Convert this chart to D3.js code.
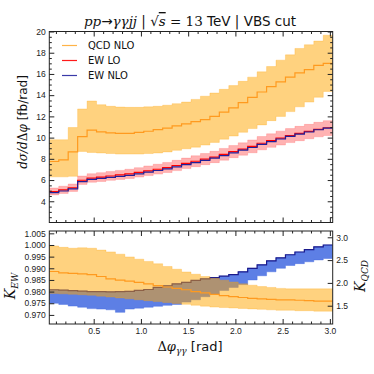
<!DOCTYPE html>
<html>
<head>
<meta charset="utf-8">
<script src="https://cdn.jsdelivr.net/npm/d3@7"></script>
<style>
body { margin: 0; background: #fff; }
svg { display: block; font-family: "DejaVu Sans", sans-serif; }
.tick text { fill: #222; font-size: 8.5px; }
.tick line { stroke: #222; }
.math { font-family: "DejaVu Serif", serif; font-style: italic; }
</style>
</head>
<body>
<svg id="chart" width="374" height="374"></svg>
<script>
// bin edges of delta phi (rad), 30 bins
const binEdges = [0.03, 0.13, 0.23, 0.33, 0.43, 0.53, 0.63, 0.73, 0.83, 0.93,
    1.03, 1.13, 1.23, 1.33, 1.43, 1.53, 1.63, 1.73, 1.83, 1.93,
    2.03, 2.13, 2.23, 2.33, 2.43, 2.53, 2.63, 2.73, 2.83, 2.93, 3.03];

// top panel, fb/rad
const qcdNlo = [7.75, 7.9, 8.65, 10.1, 10.7, 10.55, 10.45, 10.4, 10.4, 10.5,
    10.6, 10.75, 10.9, 11.1, 11.3, 11.5, 11.7, 12.0, 12.4, 12.8,
    13.3, 13.8, 14.3, 14.8, 15.25, 15.7, 16.1, 16.4, 16.8, 17.0];
const qcdUp = [9.8, 9.8, 10.95, 12.7, 13.45, 13.1, 12.95, 12.88, 12.85, 12.85,
    12.9, 12.95, 13.05, 13.2, 13.35, 13.6, 13.9, 14.2, 14.55, 14.9,
    15.3, 15.7, 16.2, 16.7, 17.3, 17.8, 18.4, 18.75, 19.1, 19.65];
const qcdDown = [6.3, 6.3, 6.35, 8.7, 8.6, 8.55, 8.5, 8.45, 8.45, 8.45,
    8.5, 8.55, 8.65, 8.8, 8.95, 9.1, 9.3, 9.55, 9.85, 10.15,
    10.5, 10.85, 11.2, 11.6, 12.0, 12.45, 12.9, 13.35, 13.8, 14.35];
const ewLo = [4.92, 5.07, 5.27, 5.98, 6.19, 6.28, 6.38, 6.48, 6.58, 6.72,
    6.87, 7.02, 7.18, 7.37, 7.57, 7.77, 7.97, 8.17, 8.42, 8.67,
    8.92, 9.17, 9.47, 9.71, 9.95, 10.19, 10.39, 10.58, 10.77, 10.93];
const ewLoUp = [5.25, 5.42, 5.63, 6.38, 6.6, 6.7, 6.8, 6.91, 7.02, 7.17,
    7.33, 7.49, 7.66, 7.86, 8.07, 8.29, 8.5, 8.71, 8.98, 9.25,
    9.51, 9.78, 10.1, 10.36, 10.61, 10.85, 11.06, 11.25, 11.44, 11.6];
const ewLoDown = [4.6, 4.74, 4.93, 5.59, 5.79, 5.87, 5.97, 6.06, 6.15, 6.28,
    6.42, 6.56, 6.71, 6.89, 7.08, 7.26, 7.45, 7.64, 7.87, 8.11,
    8.34, 8.57, 8.85, 9.08, 9.3, 9.53, 9.71, 9.89, 10.07, 10.2];
const ewNlo = [4.82, 4.97, 5.17, 5.86, 6.06, 6.15, 6.25, 6.35, 6.45, 6.59,
    6.74, 6.9, 7.05, 7.25, 7.45, 7.65, 7.85, 8.06, 8.31, 8.56,
    8.82, 9.07, 9.37, 9.62, 9.87, 10.12, 10.33, 10.53, 10.74, 10.9];

// bottom panel, K factors
const kEwUp = [0.9808, 0.9806, 0.9804, 0.9802, 0.98, 0.98, 0.9799, 0.98, 0.9801, 0.9805,
    0.9809, 0.9818, 0.9825, 0.9833, 0.984, 0.9848, 0.9855, 0.986, 0.9866, 0.9873,
    0.9885, 0.99, 0.9915, 0.9932, 0.9945, 0.9958, 0.997, 0.998, 0.9992, 1.0];
const kEwDown = [0.975, 0.9745, 0.9738, 0.9733, 0.9727, 0.9725, 0.9722, 0.9711, 0.9725, 0.9729,
    0.9733, 0.9737, 0.9741, 0.9745, 0.9755, 0.9765, 0.9778, 0.979, 0.9805, 0.9818,
    0.983, 0.985, 0.9868, 0.9885, 0.99, 0.9912, 0.992, 0.9928, 0.9936, 0.9942];
const kQcd = [2.25, 2.22, 2.21, 2.2, 2.18, 2.14, 2.09, 2.06, 2.04, 2.01,
    1.98, 1.94, 1.91, 1.88, 1.85, 1.81, 1.78, 1.75, 1.72, 1.7,
    1.68, 1.66, 1.65, 1.64, 1.63, 1.63, 1.62, 1.61, 1.6, 1.6];
const kQcdUp = [2.81, 2.78, 2.76, 2.77, 2.76, 2.72, 2.68, 2.63, 2.57, 2.52,
    2.47, 2.42, 2.36, 2.3, 2.24, 2.19, 2.14, 2.1, 2.06, 2.02,
    1.98, 1.95, 1.92, 1.9, 1.88, 1.87, 1.87, 1.87, 1.87, 1.87];
const kQcdDown = [1.77, 1.76, 1.75, 1.74, 1.73, 1.71, 1.69, 1.67, 1.65, 1.63,
    1.61, 1.59, 1.57, 1.55, 1.53, 1.51, 1.49, 1.47, 1.46, 1.45,
    1.44, 1.43, 1.42, 1.41, 1.4, 1.4, 1.39, 1.39, 1.38, 1.38];

const xTicks = [0.5, 1.0, 1.5, 2.0, 2.5, 3.0];
const yTicksTop = [4, 6, 8, 10, 12, 14, 16, 18, 20];
const yTicksEw = [0.970, 0.975, 0.980, 0.985, 0.990, 0.995, 1.000, 1.005];
const yTicksQcd = [1.5, 2.0, 2.5, 3.0];
const legendItems = [
    {label: "QCD NLO", color: "#ffb347"},
    {label: "EW LO", color: "#ff1a1a"},
    {label: "EW NLO", color: "#3a3aa8"}
];

const svg = d3.select("#chart");
const left = 49.3, right = 332.7;
const top1 = 31.5, bot1 = 222.5, top2 = 231, bot2 = 324;

const x = d3.scaleLinear().domain([0.03, 3.03]).range([left, right]);
const yTop = d3.scaleLinear().domain([2, 20]).range([bot1, top1]);
const yEw = d3.scaleLinear().domain([0.9661, 1.006]).range([bot2, top2]);
const yQcd = d3.scaleLinear().domain([1.099, 3.138]).range([bot2, top2]);

// turn per-bin values into step points (last edge repeats last value)
function steps(vals) {
    const pts = vals.map((v, i) => ({x: binEdges[i], v: v}));
    pts.push({x: binEdges[vals.length], v: vals[vals.length - 1]});
    return pts;
}
function bandPts(lo, hi) {
    const pts = lo.map((v, i) => ({x: binEdges[i], lo: v, hi: hi[i]}));
    pts.push({x: binEdges[lo.length], lo: lo[lo.length - 1], hi: hi[hi.length - 1]});
    return pts;
}

function drawBand(g, y, lo, hi, color, opacity) {
    const area = d3.area().curve(d3.curveStepAfter)
        .x(d => x(d.x)).y0(d => y(d.lo)).y1(d => y(d.hi));
    g.append("path").datum(bandPts(lo, hi))
        .attr("d", area)
        .attr("fill", color).attr("fill-opacity", opacity)
        .attr("stroke", color).attr("stroke-opacity", opacity * 0.5)
        .attr("stroke-width", 1);
}
function drawStep(g, y, vals, color, w) {
    const line = d3.line().curve(d3.curveStepAfter).x(d => x(d.x)).y(d => y(d.v));
    g.append("path").datum(steps(vals))
        .attr("d", line).attr("fill", "none")
        .attr("stroke", color).attr("stroke-width", w);
}

svg.append("clipPath").attr("id", "c1").append("rect")
    .attr("x", left).attr("y", top1).attr("width", right - left).attr("height", bot1 - top1);
svg.append("clipPath").attr("id", "c2").append("rect")
    .attr("x", left).attr("y", top2).attr("width", right - left).attr("height", bot2 - top2);

// ---- top panel
const p1 = svg.append("g").attr("clip-path", "url(#c1)");
drawBand(p1, yTop, qcdDown, qcdUp, "#ffa500", 0.5);
drawStep(p1, yTop, qcdNlo, "#ff9a1f", 1.2);
drawBand(p1, yTop, ewLoDown, ewLoUp, "#ff0000", 0.3);
drawStep(p1, yTop, ewLo, "#ff0000", 1.2);
drawStep(p1, yTop, ewNlo, "#20209a", 1.2);

// ---- bottom panel
const p2 = svg.append("g").attr("clip-path", "url(#c2)");
drawBand(p2, yEw, kEwDown, kEwUp, "#4169e1", 0.85);
drawStep(p2, yEw, kEwUp, "#1a1a8c", 1.2);
drawBand(p2, yQcd, kQcdDown, kQcdUp, "#ffa500", 0.5);
drawStep(p2, yQcd, kQcd, "#ff9a1f", 1.2);

// ---- axes (ticks inside, on all sides)
function ticks(axis, transform, values, size, fmt) {
    const g = svg.append("g").attr("transform", transform)
        .call(axis.tickValues(values).tickSizeInner(-size).tickSizeOuter(0)
            .tickPadding(3.5).tickFormat(fmt || ""));
    g.select(".domain").remove();
    return g;
}
const minorX = d3.range(0.1, 3.05, 0.1).filter(v => Math.abs(v * 2 - Math.round(v * 2)) > 0.01);
const minorTop = d3.range(2.5, 20, 0.5).filter(v => v % 2 !== 0);

// top panel
ticks(d3.axisBottom(x), `translate(0,${bot1})`, xTicks, 5);
ticks(d3.axisBottom(x), `translate(0,${bot1})`, minorX, 2.5);
ticks(d3.axisTop(x), `translate(0,${top1})`, xTicks, 5);
ticks(d3.axisTop(x), `translate(0,${top1})`, minorX, 2.5);
ticks(d3.axisLeft(yTop), `translate(${left},0)`, yTicksTop, 5, d3.format("d"));
ticks(d3.axisLeft(yTop), `translate(${left},0)`, minorTop, 2.5);
ticks(d3.axisRight(yTop), `translate(${right},0)`, yTicksTop, 5);
ticks(d3.axisRight(yTop), `translate(${right},0)`, minorTop, 2.5);

// bottom panel
ticks(d3.axisBottom(x), `translate(0,${bot2})`, xTicks, 5, d3.format(".1f"));
ticks(d3.axisBottom(x), `translate(0,${bot2})`, minorX, 2.5);
ticks(d3.axisTop(x), `translate(0,${top2})`, xTicks, 5);
ticks(d3.axisTop(x), `translate(0,${top2})`, minorX, 2.5);
ticks(d3.axisLeft(yEw), `translate(${left},0)`, yTicksEw, 5, d3.format(".3f"));
ticks(d3.axisRight(yQcd), `translate(${right},0)`, yTicksQcd, 5, d3.format(".1f"));

// frames
[[top1, bot1], [top2, bot2]].forEach(([t, b]) => {
    svg.append("rect").attr("x", left).attr("y", t)
        .attr("width", right - left).attr("height", b - t)
        .attr("fill", "none").attr("stroke", "#222").attr("stroke-width", 1);
});

// legend
const leg = svg.append("g");
legendItems.forEach((d, i) => {
    const ly = 45.5 + i * 15;
    leg.append("line").attr("x1", 62).attr("x2", 77).attr("y1", ly).attr("y2", ly)
        .attr("stroke", d.color).attr("stroke-width", 1.2);
    leg.append("text").attr("x", 88).attr("y", ly).attr("dy", "0.35em")
        .attr("font-size", 10).attr("fill", "#111").text(d.label);
});

// title
const title = svg.append("text").attr("x", 190).attr("y", 26)
    .attr("text-anchor", "middle").attr("font-size", 13.5).attr("fill", "#111");
title.append("tspan").attr("class", "math").text("pp");
title.append("tspan").text("→");
title.append("tspan").attr("class", "math").text("γγjj");
title.append("tspan").text(" | √");
title.append("tspan").attr("class", "math").attr("text-decoration", "overline").text("s");
title.append("tspan").attr("font-family", "DejaVu Serif").text(" = 13");
title.append("tspan").text(" TeV | VBS cut");

// y label top
const yl = svg.append("text").attr("transform", "translate(27,122) rotate(-90)")
    .attr("text-anchor", "middle").attr("font-size", 12).attr("fill", "#111");
yl.append("tspan").attr("class", "math").text("dσ/d");
yl.append("tspan").attr("font-family", "DejaVu Serif").text("Δ");
yl.append("tspan").attr("class", "math").text("φ");
yl.append("tspan").text(" [fb/rad]");

// K labels
const kl = svg.append("text").attr("transform", "translate(15,286) rotate(-90)")
    .attr("text-anchor", "middle").attr("font-size", 14).attr("fill", "#111");
kl.append("tspan").attr("class", "math").text("K");
kl.append("tspan").attr("class", "math").attr("font-size", 9).attr("dy", 3).text("EW");
const kr = svg.append("text").attr("transform", "translate(365,276) rotate(-90)")
    .attr("text-anchor", "middle").attr("font-size", 14).attr("fill", "#111");
kr.append("tspan").attr("class", "math").text("K");
kr.append("tspan").attr("class", "math").attr("font-size", 9).attr("dy", 3).text("QCD");

// x label
const xl = svg.append("text").attr("x", 190).attr("y", 351)
    .attr("text-anchor", "middle").attr("font-size", 13).attr("fill", "#111");
xl.append("tspan").attr("font-family", "DejaVu Serif").text("Δ");
xl.append("tspan").attr("class", "math").text("φ");
xl.append("tspan").attr("class", "math").attr("font-size", 9).attr("dy", 3).text("γγ");
xl.append("tspan").attr("dy", -3).text(" [rad]");
</script>
</body>
</html>
